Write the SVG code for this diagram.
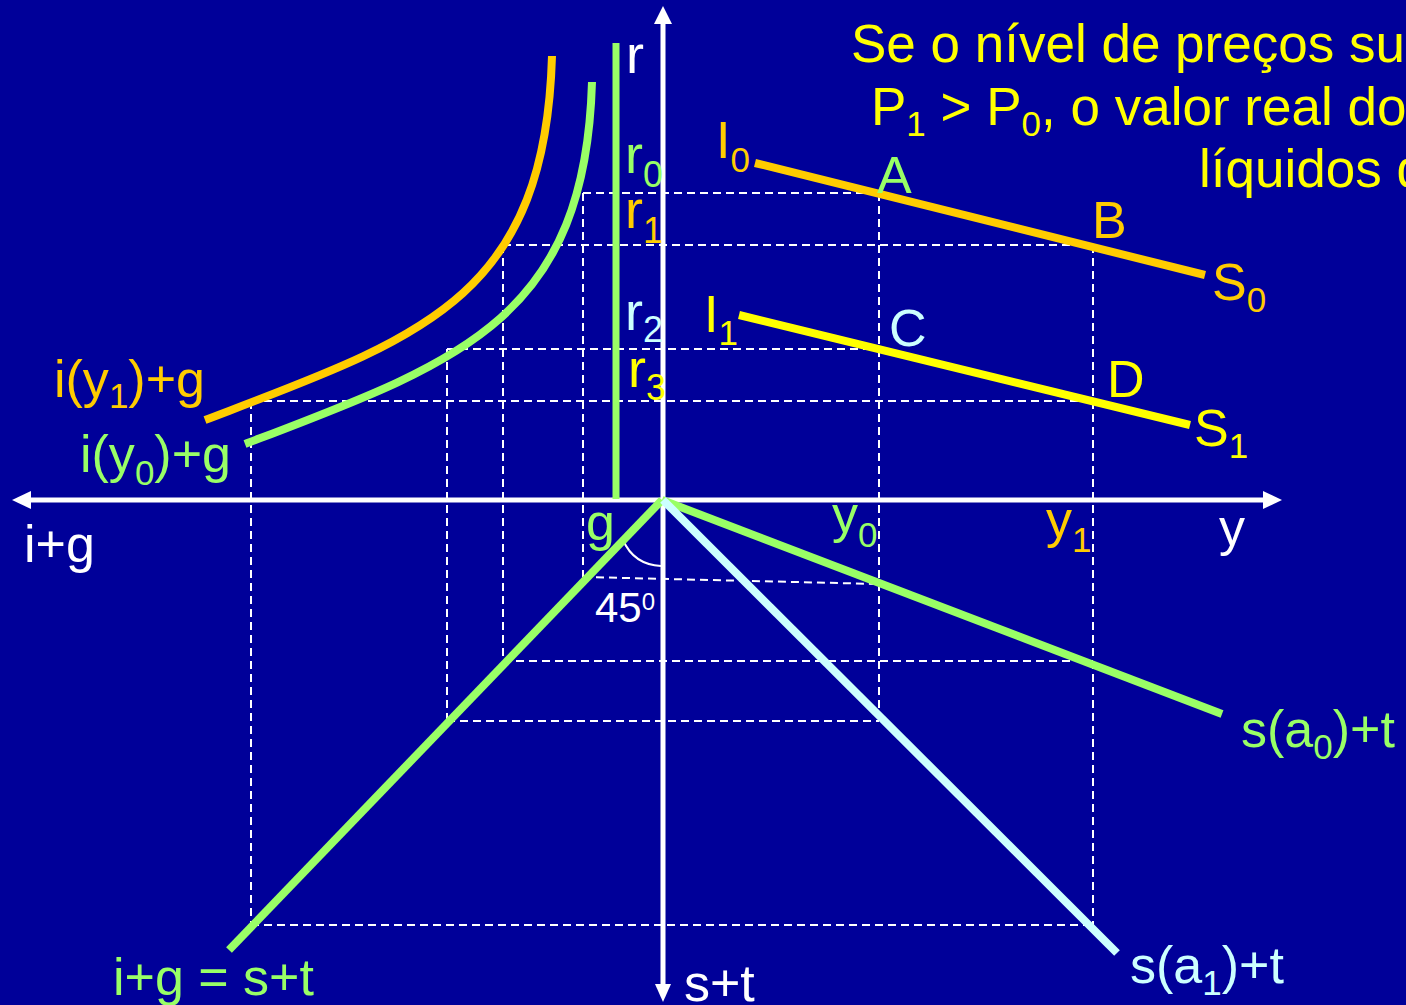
<svg xmlns="http://www.w3.org/2000/svg" width="1406" height="1005" viewBox="0 0 1406 1005">
<style>
text{font-family:"Liberation Sans",Arial,sans-serif;font-size:52px}
.h{font-size:53px}
.w{fill:#FFFFFF}.o{fill:#FFCC00}.g{fill:#99FF66}.c{fill:#CCFFFF}.y{fill:#FFFF00}
.sub{font-size:35px}
.r{font-size:54px}.rs{font-size:36px}
.dash{stroke:#FFFFFF;stroke-width:2;stroke-dasharray:8 5;fill:none}
.ax{stroke:#FFFFFF;stroke-width:5;fill:none}
.thick{stroke-width:8;fill:none}
</style>
<rect width="1406" height="1005" fill="#000099"/>
<g id="guides">
<path class="dash" d="M583,193H879M503,245H1093M447,349H879M251,401H1093M503,661H1093M447,721H879M251,925H1091"/>
<path class="dash" d="M583,577L879,584"/>
<path class="dash" d="M251,401V925M447,349V721M503,245V661M583,193V577M879,193V721M1093,245V925"/>
</g>
<g id="axes">
<path class="ax" d="M663,22V986"/>
<path class="ax" d="M28,500H1265"/>
<polygon fill="#FFFFFF" points="663,6 654,24 672,24"/>
<polygon fill="#FFFFFF" points="663,1002 655,984 671,984"/>
<polygon fill="#FFFFFF" points="12,500 31,491 31,509"/>
<polygon fill="#FFFFFF" points="1282,500 1263,491 1263,509"/>
<path d="M623,540C630,556 642,565 661,566" stroke="#FFFFFF" stroke-width="2" fill="none"/>
</g>
<g id="connectors">
<path id="lm" d="M616,43V499" stroke="#99FF66" stroke-width="7" fill="none"/>
<path id="iy1" class="thick" stroke="#FFCC00" d="M205,420C420,338 545,300 552,56"/>
<path id="iy0" class="thick" stroke="#99FF66" d="M245,444C460,362 585,320 592,82"/>
<path id="is0" class="thick" stroke="#FFCC00" d="M755,163L1205,275"/>
<path id="is1" class="thick" stroke="#FFFF00" d="M739,315L1190,425"/>
<path id="eq" class="thick" stroke="#99FF66" d="M662,500L229,950"/>
<path id="sa0" class="thick" stroke="#99FF66" d="M662,500L1222,714"/>
<path id="sa1" class="thick" stroke="#CCFFFF" d="M663,500L1117,953"/>
</g>
<g id="labels">
<text x="851" y="62" class="y h">Se o nível de preços su</text>
<text x="871" y="125" class="y h">P<tspan class="sub" dy="11">1</tspan><tspan dy="-11"> &gt; P</tspan><tspan class="sub" dy="11">0</tspan><tspan dy="-11">, o valor real do</tspan></text>
<text x="1199" y="187" class="y h">líquidos d</text>
<text x="626" y="73" class="w r">r</text>
<text x="625" y="173" class="g r">r<tspan class="rs" dy="14">0</tspan></text>
<text x="625" y="228" class="o r">r<tspan class="rs" dy="15">1</tspan></text>
<text x="625" y="330" class="c r">r<tspan class="rs" dy="12">2</tspan></text>
<text x="628" y="387" class="y r">r<tspan class="rs" dy="13">3</tspan></text>
<text x="716" y="158" class="o">I<tspan class="sub" dy="14">0</tspan></text>
<text x="704" y="332" class="y">I<tspan class="sub" dy="13">1</tspan></text>
<text x="877" y="193" class="g">A</text>
<text x="1092" y="238" class="o">B</text>
<text x="889" y="346" class="c">C</text>
<text x="1107" y="397" class="y">D</text>
<text x="1212" y="300" class="o">S<tspan class="sub" dy="12">0</tspan></text>
<text x="1194" y="446" class="y">S<tspan class="sub" dy="12">1</tspan></text>
<text x="54" y="397" class="o">i(y<tspan class="sub" dy="11">1</tspan><tspan dy="-11">)+g</tspan></text>
<text x="80" y="472" class="g">i(y<tspan class="sub" dy="13">0</tspan><tspan dy="-13">)+g</tspan></text>
<text x="24" y="562" class="w">i+g</text>
<text x="586" y="540" class="g">g</text>
<text x="832" y="532" class="g">y<tspan class="sub" dy="15">0</tspan></text>
<text x="1046" y="537" class="o">y<tspan class="sub" dy="15">1</tspan></text>
<text x="1219" y="545" class="w">y</text>
<text x="595" y="622" class="w" style="font-size:42px">45<tspan style="font-size:24px" dy="-12">0</tspan></text>
<text x="1241" y="747" class="g">s(a<tspan class="sub" dy="12">0</tspan><tspan dy="-12">)+t</tspan></text>
<text x="1130" y="983" class="c">s(a<tspan class="sub" dy="12">1</tspan><tspan dy="-12">)+t</tspan></text>
<text x="113" y="995" class="g">i+g = s+t</text>
<text x="684" y="1001" class="w">s+t</text>
</g>
</svg>
